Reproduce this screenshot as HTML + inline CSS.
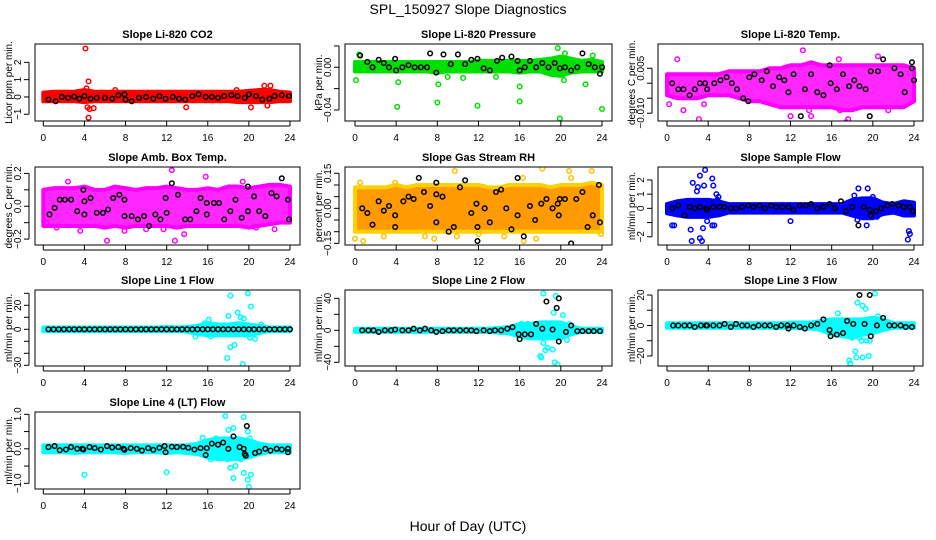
<!DOCTYPE html>
<html><head><meta charset="utf-8"><style>
html,body{margin:0;padding:0;background:#fff;}
svg{display:block;font-family:"Liberation Sans",sans-serif;}
</style></head><body>
<svg id="chart" width="936" height="540" viewBox="0 0 936 540">
<text x="468" y="14" text-anchor="middle" font-size="14">SPL_150927  Slope Diagnostics</text>
<text x="468" y="531" text-anchor="middle" font-size="14">Hour of Day (UTC)</text>
</svg>
<script>
const xTicks=[0,4,8,12,16,20,24];
const bandHours=[0,1,2,3,4,5,6,7,8,9,10,11,12,13,14,15,16,17,18,19,20,21,22,23,24];

const co2Lo=[-0.25,-0.25,-0.25,-0.25,-0.3,-0.25,-0.25,-0.25,-0.25,-0.25,-0.25,-0.25,-0.25,-0.25,-0.25,-0.25,-0.25,-0.25,-0.25,-0.3,-0.3,-0.3,-0.3,-0.25,-0.25];
const co2Hi=[0.25,0.3,0.3,0.3,0.4,0.3,0.3,0.3,0.3,0.3,0.3,0.3,0.3,0.3,0.3,0.3,0.3,0.3,0.3,0.3,0.35,0.4,0.4,0.3,0.25];
const co2Out=[[4.1,2.8],[4.4,0.9],[4.2,0.5],[4.3,-0.6],[4.4,-1.2],[4.9,-0.65],[4.5,-0.7],[21.5,0.65],[22.1,0.65],[20.2,-0.6],[13.9,-0.6],[7,0.4],[18.8,0.4],[21.8,-0.5]];
const co2Blk=[[0.5,-0.15],[1.2,-0.25],[1.8,0],[2.4,-0.05],[3,0.02],[3.5,-0.1],[4,0.05],[4.6,-0.1],[5.2,-0.05],[6,-0.05],[6.7,-0.1],[7.3,0.1],[7.9,0.15],[8,-0.15],[8.6,-0.25],[9.3,-0.05],[10,0],[10.7,-0.1],[11.3,0.05],[11.9,-0.1],[12.6,0],[13.2,-0.1],[13.8,-0.15],[14.5,0.05],[15.1,0.15],[15.8,0],[16.4,0],[17,-0.05],[17.6,0.05],[18.3,0.1],[18.9,0.05],[19.6,-0.05],[20,0.15],[20.7,0.05],[21.3,-0.15],[22,-0.1],[22.5,0.05],[23.2,0.1],[23.9,0.05]];

const prLo=[-0.004,-0.004,-0.004,-0.004,-0.004,-0.004,-0.004,-0.004,-0.005,-0.004,-0.004,-0.004,-0.004,-0.004,-0.004,-0.004,-0.005,-0.004,-0.004,-0.007,-0.008,-0.005,-0.004,-0.004,-0.004];
const prHi=[0.005,0.005,0.005,0.005,0.005,0.005,0.005,0.005,0.005,0.005,0.005,0.005,0.006,0.006,0.006,0.006,0.006,0.006,0.007,0.008,0.01,0.008,0.006,0.007,0.005];
const prOut=[[0.1,-0.012],[0.4,0.012],[4.1,-0.037],[4.2,-0.014],[8,-0.033],[8.1,-0.016],[9,-0.009],[11.9,-0.036],[13.7,-0.009],[16,-0.018],[16,-0.032],[19.9,-0.048],[19.7,0.018],[20.4,0.013],[22.4,-0.016],[23.1,0.011],[24,-0.039],[10.5,-0.01],[20.3,-0.012]];
const prBlk=[[0.5,0.011],[1.2,0.005],[1.7,0],[2.3,0.007],[2.8,0.004],[3.3,0],[3.9,0.008],[4,-0.003],[4.6,0],[5.2,0.002],[5.8,0],[6.4,0],[7,0],[7.3,0.013],[7.9,-0.005],[8.6,0.012],[9.3,0.003],[10,0.012],[10.7,0.003],[11.3,0.007],[11.9,0.008],[12.5,-0.001],[13.1,-0.003],[13.8,0.006],[14.3,0.009],[15.2,0.01],[15.8,0.006],[16,-0.003],[16.5,0],[17,0.006],[17.6,0],[18.2,0.004],[18.8,0],[19.4,0.004],[19.9,-0.001],[20.4,0],[21,-0.003],[21.6,0],[22.1,0.013],[22.7,0.003],[23.3,0],[23.8,-0.006],[24,0]];

const ltLo=[-0.004,-0.005,-0.005,-0.005,-0.004,-0.004,-0.004,-0.005,-0.006,-0.006,-0.007,-0.008,-0.008,-0.008,-0.008,-0.008,-0.008,-0.009,-0.009,-0.008,-0.008,-0.008,-0.008,-0.008,-0.006];
const ltHi=[0.003,0.003,0.003,0.003,0.003,0.003,0.004,0.004,0.004,0.004,0.005,0.005,0.006,0.006,0.007,0.006,0.006,0.006,0.006,0.006,0.006,0.006,0.006,0.006,0.005];
const ltOut=[[1,0.008],[0.2,-0.007],[1.6,-0.009],[3.1,-0.012],[3.6,-0.007],[13.2,0.011],[17.4,-0.013],[17.6,-0.012],[20.5,0.009],[12,-0.011],[16.7,0.008],[14,-0.011],[13.8,-0.009],[16.8,-0.009],[21.5,-0.009]];
const ltBlk=[[0.5,0],[1.1,-0.002],[1.6,-0.002],[2.2,-0.004],[2.7,-0.002],[3.2,0],[3.7,0],[3.9,-0.002],[4.6,0],[5.2,0.001],[5.8,0.002],[6.3,0],[6.8,-0.002],[7.4,-0.005],[7.9,-0.006],[8,0.002],[8.5,0.003],[9.2,0.001],[9.7,0.004],[10.3,-0.001],[10.9,0.002],[11.4,0.001],[11.8,-0.003],[12.3,0.003],[13,-0.011],[13.4,-0.002],[14,0.003],[14.6,-0.003],[15.2,-0.004],[15.8,0.006],[15.9,0],[16.5,-0.002],[17.1,0.003],[17.7,-0.001],[18.2,0.001],[18.7,-0.001],[19.3,-0.002],[19.7,-0.011],[19.8,0.004],[20.5,0.004],[21,0.008],[22.1,0.005],[22.7,0.003],[23.1,-0.003],[23.8,0.007],[23.8,0.005],[24,0.001]];

const abLo=[-0.12,-0.12,-0.12,-0.12,-0.12,-0.12,-0.13,-0.12,-0.13,-0.12,-0.12,-0.12,-0.12,-0.13,-0.12,-0.12,-0.12,-0.12,-0.12,-0.12,-0.13,-0.12,-0.11,-0.1,-0.1];
const abHi=[0.1,0.11,0.11,0.11,0.12,0.1,0.1,0.12,0.11,0.1,0.11,0.11,0.12,0.11,0.1,0.1,0.11,0.1,0.12,0.12,0.11,0.12,0.13,0.13,0.12];
const abOut=[[12.5,0.22],[15.8,0.18],[6.2,-0.21],[12.8,-0.21],[2.4,0.15],[13.7,-0.17],[22.5,-0.14],[1.3,-0.13],[3.6,-0.15],[7.9,-0.15],[19.4,0.15],[10,-0.14],[0.3,-0.1],[11.7,-0.14],[20.7,-0.13]];
const abBlk=[[0.6,-0.05],[1.1,-0.01],[1.6,0.04],[2.1,0.04],[2.7,0.04],[3.3,-0.03],[3.9,0.1],[4,-0.05],[4,0.03],[4.6,0.05],[5.2,-0.04],[5.8,-0.04],[6.3,-0.02],[6.8,0.05],[7.4,0.07],[7.9,-0.06],[7.9,0.04],[8.6,-0.06],[9.2,-0.08],[9.8,-0.06],[10.3,-0.12],[10.9,-0.05],[11.4,-0.08],[11.9,0.05],[12,-0.04],[12.5,0.14],[13.1,0.07],[13.8,-0.08],[14.3,-0.08],[14.9,-0.03],[15.3,0.05],[15.9,0.02],[15.9,-0.05],[16.6,0.02],[17.1,0.02],[17.6,-0.08],[18.2,-0.03],[18.7,0.04],[19.3,-0.07],[19.9,0.12],[19.9,-0.03],[20.5,0.06],[21,-0.03],[21.6,-0.06],[22.2,0.08],[22.7,0.06],[23.2,0.17],[23.8,0.04],[23.9,-0.08]];

const rhLo=[-0.1,-0.1,-0.1,-0.1,-0.1,-0.1,-0.1,-0.1,-0.1,-0.1,-0.1,-0.1,-0.1,-0.1,-0.1,-0.1,-0.1,-0.1,-0.1,-0.1,-0.1,-0.1,-0.1,-0.1,-0.1];
const rhHi=[0.09,0.09,0.09,0.09,0.1,0.09,0.1,0.1,0.1,0.1,0.1,0.1,0.1,0.09,0.09,0.1,0.1,0.1,0.1,0.09,0.1,0.1,0.1,0.11,0.1];
const rhOut=[[0.5,0.11],[0.8,-0.14],[0,-0.13],[3.9,0.11],[3.8,-0.09],[9.7,0.16],[9.9,-0.12],[16.3,0.13],[16.4,-0.14],[18.2,0.17],[17.6,-0.13],[23,0.16],[23.9,-0.11],[20.8,0.16],[12,-0.11],[2.8,-0.12],[21,0.13],[14.5,-0.12],[6.8,-0.12],[7.7,-0.13]];
const rhBlk=[[0.7,0],[1.2,-0.02],[1.7,-0.07],[2.3,0.03],[2.8,-0.01],[3.3,0.01],[3.9,-0.03],[3.9,-0.08],[4.7,0.03],[5.2,0.05],[5.7,0.04],[6.2,0.13],[6.7,0.07],[7.3,0.01],[7.9,0.06],[7.9,-0.06],[7.9,0.11],[8.5,0.05],[9.1,-0.1],[9.6,-0.08],[10.2,0.09],[10.7,0.12],[11.3,-0.02],[11.8,0.02],[11.9,-0.14],[11.9,-0.08],[12.6,0],[13.1,-0.06],[13.7,0.07],[14.2,0.08],[14.7,0],[15.2,-0.09],[15.8,0.13],[15.8,-0.03],[16.4,-0.12],[17,0.01],[17.5,-0.05],[18.1,0.02],[18.6,0.04],[19.2,0],[19.7,0.02],[19.8,-0.03],[19.9,0.04],[20.4,0.04],[21,-0.15],[21.5,0.04],[22.1,0.07],[22.6,-0.08],[23.1,-0.03],[23.7,0.1],[23.8,-0.06]];

const sfLo=[-0.35,-0.5,-0.6,-0.6,-0.6,-0.5,-0.3,-0.3,-0.3,-0.3,-0.3,-0.3,-0.3,-0.3,-0.3,-0.3,-0.3,-0.3,-0.5,-0.7,-0.7,-0.4,-0.3,-0.5,-0.5];
const sfHi=[0.3,0.5,0.6,0.6,0.6,0.5,0.3,0.3,0.3,0.3,0.3,0.3,0.3,0.3,0.3,0.3,0.3,0.3,0.6,0.7,0.7,0.4,0.3,0.5,0.4];
const sfOut=[[3.7,2.7],[3.2,2.3],[2.5,1.8],[3.6,1.6],[4.4,2.1],[4.5,1.6],[2.9,1.2],[4.8,1.0],[5,0.8],[2.3,-1.5],[2.4,-2.3],[3.2,-2.1],[3.4,-2.3],[3.5,-1.4],[3.9,-0.9],[4.4,-1.2],[4.6,-1.2],[0.5,-1.2],[0.7,-1.2],[12,-0.9],[18.6,1.4],[19.5,1.4],[18.2,0.9],[18.5,-0.8],[19.4,-1.2],[23.4,-2.2],[23.5,-1.6],[23.6,-1.8],[20,0.8],[20.4,-0.6],[4.9,0.6],[3,1.5]];
const sfBlk=[[0.5,0],[1.1,0.2],[1.7,-0.5],[2.2,0.1],[2.7,0],[3.2,0.1],[3.8,0],[3.9,-0.1],[4.5,0.1],[5.1,0.1],[5.6,0.1],[6.2,0],[6.7,0],[7.3,0.1],[7.9,0.2],[8.4,0.1],[9,0.2],[9.5,0],[10.1,0.2],[10.6,0.1],[11.2,0.1],[11.8,0.1],[12.3,-0.1],[12.9,0.2],[13.5,0.2],[14,0.3],[14.6,0],[15.2,0.1],[15.8,0.3],[16.3,0],[16.9,0.5],[17.4,-0.2],[18,0.1],[18.6,-1.2],[19.1,0.1],[19.7,-0.1],[19.8,-0.5],[20.3,-0.2],[20.8,0],[21.4,0.2],[21.9,0.3],[22.5,0.2],[23,0.1],[23.6,0.1],[23.9,-0.2]];

const l1Lo=[-1.5,-1.5,-1.5,-1.5,-1.5,-1.5,-1.5,-1.5,-1.5,-1.5,-1.5,-1.5,-1.5,-1.5,-2,-4,-5,-5,-5,-5,-5,-3,-1.5,-1.5,-1.5];
const l1Hi=[1.5,1.5,1.5,1.5,1.5,1.5,1.5,1.5,1.5,1.5,1.5,1.5,2,1.5,2,3,5,4,4,5,4,3,1.5,1.5,1.5];
const l1Out=[[18.2,28],[19.9,30],[20.2,19],[18,11],[18.9,14],[19.2,10],[19.5,9],[16.1,8],[15.7,5],[17.9,-24],[18.2,-15],[18.6,-13],[19.4,-29],[16.3,-6],[20.1,-7],[20.6,-8],[21.2,4],[14.8,-6]];
const l1Blk=[[0.5,0],[1,0],[1.5,0],[2,0],[2.5,0],[3,0],[3.5,0],[4,0],[4.5,0],[5,0],[5.5,0],[6,0],[6.5,0],[7,0],[7.5,0],[8,0],[8.5,0],[9,0],[9.5,0],[10,0],[10.5,0],[11,0],[11.5,0],[12,0],[12.5,0],[13,0],[13.5,0],[14,0],[14.5,0],[15,0],[15.5,0],[16,0],[16.5,0],[17,0],[17.5,0],[18,0],[18.5,0],[19,0],[19.5,0],[20,0],[20.5,0],[21,0],[21.5,0],[22,0],[22.5,0],[23,0],[23.5,0],[24,0]];

const l2Lo=[-2,-2,-2,-2,-2,-2,-2,-2,-2,-2,-2,-2,-2,-2,-3,-4,-8,-10,-10,-10,-10,-5,-2,-2,-2];
const l2Hi=[2,2,2,2,2,2,2,2,2,2,2,2,2,2,3,4,8,8,10,10,10,5,2,2,2];
const l2Out=[[18.3,46],[19.5,43],[20.2,19],[19.3,22],[18,-32],[18.1,-34],[19.4,-40],[19.7,-43],[18.7,-22],[19.2,-24],[18.3,-16],[16.2,8],[16.8,8],[17.2,-4],[20.6,-12],[20.8,8],[18.5,-25]];
const l2Blk=[[0.7,0],[1.3,0],[1.8,0],[2.3,-2],[2.9,0],[3.5,0],[3.9,1],[4.6,0],[5.2,0],[5.7,2],[6.3,0],[6.8,2],[7.4,0],[7.9,-2],[8.5,-1],[9.1,0],[9.6,0],[10.2,0],[10.8,0],[11.3,0],[11.8,-1],[12.5,0],[13.1,-1],[13.6,0],[14.2,0],[14.8,2],[15.3,4],[15.9,-5],[16,-11],[16.5,-5],[17.1,-5],[17.6,8],[18.2,2],[18.6,36],[19.2,1],[19.6,28],[19.8,40],[19.8,-14],[20.5,-2],[21,6],[21.6,-1],[22.1,-1],[22.7,-1],[23.2,-1],[23.8,-1]];

const l3Lo=[-1.5,-1.5,-1.5,-1.5,-1.5,-1.5,-1.5,-1.5,-1.5,-1.5,-1.5,-1.5,-1.5,-2,-2,-3,-6,-7,-8,-6,-5,-3,-1.5,-1.5,-1.5];
const l3Hi=[1.5,1.5,1.5,1.5,1.5,1.5,1.5,1.5,1.5,1.5,1.5,1.5,2,2,2,3,4,4,4,4,5,4,1.5,1.5,1.5];
const l3Out=[[17.7,-23],[17.8,-25],[18.3,-17],[18.4,-21],[19,-21],[19.6,-20],[18.5,15],[19,13],[19.3,11],[16.6,8],[20.2,21],[20.5,6],[18,-8],[18.7,-8],[19.4,-10],[19.7,-10],[18.9,-10],[15.9,-5]];
const l3Blk=[[0.6,0],[1.1,0],[1.7,0],[2.2,0],[2.7,-1],[3.3,0],[3.8,0],[3.9,0],[4.5,0],[5.1,0],[5.6,1],[6.2,-1],[6.7,1],[7.3,0],[7.8,0],[8.4,-1],[8.9,0],[9.5,0],[10,0],[10.6,-1],[11.1,0],[11.7,0],[11.8,-2],[12.3,0],[12.9,-1],[13.4,-2],[14,0],[14.6,1],[15.2,4],[15.8,-3],[15.9,-7],[16.5,-6],[17.1,-5],[17.5,3],[18.1,1],[18.7,20],[19.2,1],[19.7,20],[19.8,-7],[20.4,0],[21,5],[21.6,0],[22.1,0],[22.7,0],[23.2,-1],[23.8,-1]];

const l4Lo=[-0.1,-0.1,-0.1,-0.12,-0.1,-0.1,-0.1,-0.1,-0.12,-0.1,-0.1,-0.1,-0.12,-0.1,-0.12,-0.15,-0.25,-0.3,-0.3,-0.3,-0.25,-0.15,-0.1,-0.1,-0.1];
const l4Hi=[0.1,0.1,0.1,0.1,0.1,0.1,0.1,0.1,0.1,0.1,0.1,0.1,0.1,0.1,0.1,0.15,0.25,0.3,0.3,0.3,0.25,0.15,0.1,0.1,0.1];
const l4Out=[[4,-0.75],[12,-0.68],[15.5,0.32],[17.7,0.95],[19.5,0.92],[18,0.55],[18.5,0.6],[19.9,0.5],[18.2,-0.55],[18.7,-0.5],[18.5,-0.85],[19.5,-0.7],[19.9,-0.9],[20,-1.1],[20.2,-0.75],[17.9,-0.3],[16.8,0.3],[19.2,-0.3],[20.1,0.3],[16.3,-0.3],[18.1,-0.28]];
const l4Blk=[[0.5,0.05],[1.1,0.08],[1.6,-0.04],[2.2,-0.02],[2.7,0.05],[3.3,0],[3.8,0],[3.9,-0.02],[4.5,0.05],[5,0.02],[5.6,-0.02],[6.2,0.08],[6.7,0.04],[7.3,0.05],[7.8,0],[7.9,-0.03],[8.5,0.02],[9.1,0],[9.6,-0.05],[10.2,0.02],[10.7,-0.03],[11.3,0.03],[11.8,0.08],[11.9,-0.1],[12.5,0.06],[13,0.05],[13.6,0.06],[14.1,0.03],[14.7,-0.02],[15.3,0.02],[15.8,-0.18],[15.9,0.02],[16.4,0.15],[17,0.12],[17.5,0.18],[18,0],[18.5,0.36],[19.1,0.05],[19.5,0],[19.6,-0.15],[19.7,-0.2],[19.8,0.66],[20.6,-0.12],[21,-0.08],[21.6,0],[22.1,-0.05],[22.7,0],[23.2,-0.02],[23.8,-0.1],[23.8,0]];

const panels=[
 {name:"co2",title:"Slope Li-820 CO2",ylab:"Licor ppm per min.",col:0,row:0,top:3.06,bot:-1.39,ticks:[-1,0,1,2],tl:["−1","0","1","2"],color:"#ff0000",lo:co2Lo,hi:co2Hi,out:co2Out,blk:co2Blk},
 {name:"pressure",title:"Slope Li-820 Pressure",ylab:"kPa per min.",col:1,row:0,top:0.0218,bot:-0.0503,ticks:[-0.04,-0.02,0,0.02],tl:["−0.04","","0.00",""],color:"#00e000",lo:prLo,hi:prHi,out:prOut,blk:prBlk},
 {name:"li820-temp",title:"Slope Li-820 Temp.",ylab:"degrees C per min.",col:2,row:0,top:0.0131,bot:-0.0126,ticks:[-0.01,-0.005,0,0.005],tl:["−0.010","","","0.005"],color:"#ff00ff",lo:ltLo,hi:ltHi,out:ltOut,blk:ltBlk},
 {name:"amb-box-temp",title:"Slope Amb. Box Temp.",ylab:"degrees C per min.",col:0,row:1,top:0.239,bot:-0.236,ticks:[-0.2,-0.1,0,0.1,0.2],tl:["−0.2","","0.0","","0.2"],color:"#ff00ff",lo:abLo,hi:abHi,out:abOut,blk:abBlk},
 {name:"gas-stream-rh",title:"Slope Gas Stream RH",ylab:"percent per min.",col:1,row:1,top:0.177,bot:-0.157,ticks:[-0.15,-0.1,-0.05,0,0.05,0.1,0.15],tl:["−0.15","","","0.00","","","0.15"],color:"#ffa800",lo:rhLo,hi:rhHi,out:rhOut,blk:rhBlk},
 {name:"sample-flow",title:"Slope Sample Flow",ylab:"ml/min per min.",col:2,row:1,top:2.91,bot:-2.58,ticks:[-2,-1,0,1,2],tl:["−2","","0","1","2"],color:"#0000ff",lo:sfLo,hi:sfHi,out:sfOut,blk:sfBlk},
 {name:"line1-flow",title:"Slope Line 1 Flow",ylab:"ml/min per min.",col:0,row:2,top:32.75,bot:-30.6,ticks:[-30,-20,-10,0,10,20,30],tl:["−30","","","0","","20",""],color:"#00ffff",lo:l1Lo,hi:l1Hi,out:l1Out,blk:l1Blk},
 {name:"line2-flow",title:"Slope Line 2 Flow",ylab:"ml/min per min.",col:1,row:2,top:50.4,bot:-44.6,ticks:[-40,-20,0,20,40],tl:["−40","","0","","40"],color:"#00ffff",lo:l2Lo,hi:l2Hi,out:l2Out,blk:l2Blk},
 {name:"line3-flow",title:"Slope Line 3 Flow",ylab:"ml/min per min.",col:2,row:2,top:23.3,bot:-26.6,ticks:[-20,-10,0,10,20],tl:["−20","","0","","20"],color:"#00ffff",lo:l3Lo,hi:l3Hi,out:l3Out,blk:l3Blk},
 {name:"line4-flow",title:"Slope Line 4 (LT) Flow",ylab:"ml/min per min.",col:0,row:3,top:1.067,bot:-1.165,ticks:[-1,-0.5,0,0.5,1],tl:["−1.0","","0.0","","1.0"],color:"#00ffff",lo:l4Lo,hi:l4Hi,out:l4Out,blk:l4Blk}
];
const colBox=[[35,300,43.3,290],[345,612,355,602],[658,923,667,914]];
const rowBox=[[44,121],[167,245],[290,366],[412,489]];
const NS="http://www.w3.org/2000/svg";
const svg=document.getElementById("chart");
function mk(tag,attrs,parent){const e=document.createElementNS(NS,tag);for(const k in attrs)e.setAttribute(k,attrs[k]);(parent||svg).appendChild(e);return e;}
panels.forEach(p=>{
 const [bl,br,x0,x24]=colBox[p.col];const [bt,bb]=rowBox[p.row];
 const xs=h=>x0+(x24-x0)*h/24;
 const ys=v=>bt+(p.top-v)/(p.top-p.bot)*(bb-bt);
 const g=mk("g",{});
 
 
 const clip=mk("clipPath",{id:"clip-"+p.name},g);
 mk("rect",{x:bl,y:bt,width:br-bl,height:bb-bt},clip);
 const pg=mk("g",{"clip-path":"url(#clip-"+p.name+")"},g);
 let pts=[];
 bandHours.forEach((h,i)=>pts.push(xs(h)+","+ys(p.hi[i])));
 for(let i=bandHours.length-1;i>=0;i--)pts.push(xs(bandHours[i])+","+ys(p.lo[i]));
 const band=mk("polygon",{points:pts.join(" "),fill:p.color,stroke:p.color,"stroke-width":4,"stroke-linejoin":"round"},pg);
 
 
 if(p.name==="gas-stream-rh"){band.setAttribute('fill','#ff9a00');band.setAttribute('stroke','#ffd000');}
 if(p.name==="li820-temp"||p.name==="amb-box-temp"){band.setAttribute('fill-opacity','0.85');}
 p.out.forEach(d=>{
  const c=mk("circle",{cx:xs(d[0]),cy:ys(d[1]),r:2.3,fill:"none",stroke:p.name==="gas-stream-rh"?"#ffc000":p.color,"stroke-width":1.5},pg);
  
  
 });
 p.blk.forEach(d=>{
  const c=mk("circle",{cx:xs(d[0]),cy:ys(d[1]),r:2.3,fill:"none",stroke:"#000","stroke-width":1.5},pg);
  
  
 });
 const box=mk("rect",{x:bl,y:bt,width:br-bl,height:bb-bt,fill:"none",stroke:"#000","stroke-width":1},g);
 
 
 const t=mk("text",{x:(bl+br)/2,y:bt-6,"text-anchor":"middle","font-size":11,"font-weight":"bold"},g);
 t.textContent=p.title;
 
 
 xTicks.forEach(h=>{
  mk("line",{x1:xs(h),x2:xs(h),y1:bb,y2:bb+5,stroke:"#000"},g);
  const tx=mk("text",{x:xs(h),y:bb+20,"text-anchor":"middle","font-size":10},g);
  tx.textContent=h;
  
  
 });
 mk("line",{x1:xs(0),x2:xs(24),y1:bb+5,y2:bb+5,stroke:"#000"},g);
 const ax=bl-6;
 mk("line",{x1:ax,x2:ax,y1:ys(p.ticks[p.ticks.length-1]),y2:ys(p.ticks[0]),stroke:"#000"},g);
 p.ticks.forEach((v,i)=>{
  mk("line",{x1:ax-5,x2:ax,y1:ys(v),y2:ys(v),stroke:"#000"},g);
  if(p.tl[i]){
   const ty=mk("text",{x:0,y:0,"text-anchor":"middle","font-size":10,transform:"translate("+(ax-8)+","+ys(v)+") rotate(-90)"},g);
   ty.textContent=p.tl[i];
   
   
  }
 });
 const yl=mk("text",{x:0,y:0,"text-anchor":"middle","font-size":10,transform:"translate("+(bl-23)+","+((bt+bb)/2)+") rotate(-90)"},g);
 yl.textContent=p.ylab;
 
 
});
</script>
</body></html>
